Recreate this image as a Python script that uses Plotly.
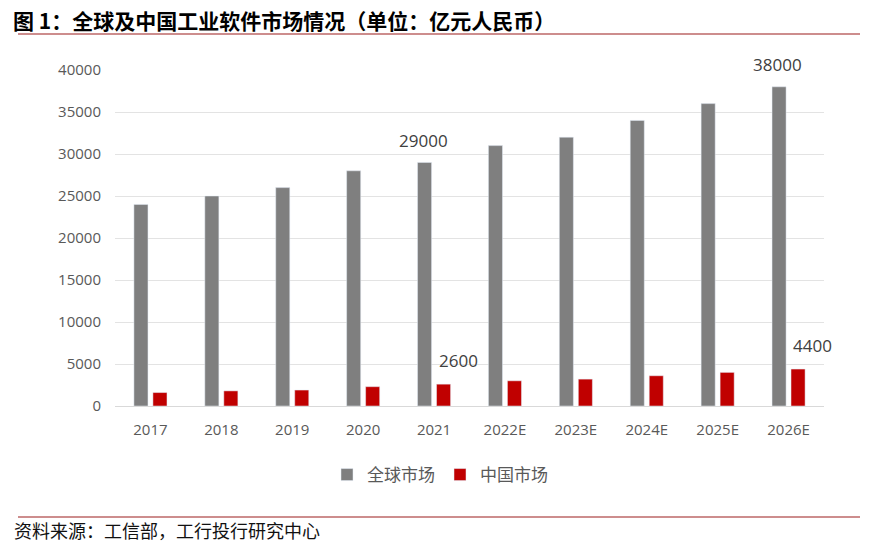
import plotly.graph_objects as go

years = ["2017", "2018", "2019", "2020", "2021", "2022E", "2023E", "2024E", "2025E", "2026E"]
global_market = [24000, 25000, 26000, 28000, 29000, 31000, 32000, 34000, 36000, 38000]
china_market = [1600, 1800, 1900, 2300, 2600, 3000, 3200, 3600, 4000, 4400]
labeled_idx = [4, 9]
y_ticks = [0, 5000, 10000, 15000, 20000, 25000, 30000, 35000, 40000]

GRAY = "#7f7f7f"
RED = "#c00000"
CJK = "Noto Sans CJK SC"
NUM = "Open Sans, Noto Sans CJK SC"

L, R, T, B = 115, 48, 70, 139
W, H = 872, 545
pw, ph = W - L - R, H - T - B

def px_to_paper_y(py):
    return (H - B - py) / ph

def px_to_paper_x(px):
    return (px - L) / pw

fig = go.Figure()
fig.add_trace(go.Bar(x=years, y=global_market, name="全球市场", marker_color=GRAY))
fig.add_trace(go.Bar(x=years, y=china_market, name="中国市场", marker_color=RED))

annotations = []
for i in labeled_idx:
    annotations.append(dict(x=i, y=global_market[i], xref="x", yref="y",
                            text=str(global_market[i]), showarrow=False,
                            xshift=-11, yshift=22, yanchor="middle",
                            font=dict(family=NUM, size=17, color="#404040")))
    annotations.append(dict(x=i, y=china_market[i], xref="x", yref="y",
                            text=str(china_market[i]), showarrow=False,
                            xshift=24, yshift=24, yanchor="middle",
                            font=dict(family=NUM, size=17, color="#404040")))

annotations.append(dict(x=px_to_paper_x(11), y=px_to_paper_y(20), xref="paper", yref="paper",
                        text="<b>图 1：全球及中国工业软件市场情况（单位：亿元人民币）</b>",
                        showarrow=False, xanchor="left", yanchor="middle",
                        font=dict(family=CJK, size=21, color="#000000")))
annotations.append(dict(x=px_to_paper_x(12), y=px_to_paper_y(530), xref="paper", yref="paper",
                        text="资料来源：工信部，工行投行研究中心",
                        showarrow=False, xanchor="left", yanchor="middle",
                        font=dict(family=CJK, size=18, color="#111111")))

shapes = [
    dict(type="line", xref="paper", yref="paper", x0=px_to_paper_x(18), x1=px_to_paper_x(860),
         y0=px_to_paper_y(34), y1=px_to_paper_y(34), line=dict(color="#9b1c1c", width=1.2)),
    dict(type="line", xref="paper", yref="paper", x0=px_to_paper_x(18), x1=px_to_paper_x(860),
         y0=px_to_paper_y(517), y1=px_to_paper_y(517), line=dict(color="#9b1c1c", width=1.2)),
]

fig.update_layout(
    width=W, height=H,
    margin=dict(l=L, r=R, t=T, b=B, autoexpand=False),
    paper_bgcolor="white", plot_bgcolor="white",
    barmode="group", bargap=0.464, bargroupgap=0.26,
    showlegend=True,
    legend=dict(orientation="h", x=px_to_paper_x(440), xanchor="center",
                y=px_to_paper_y(475), yanchor="middle",
                font=dict(family=CJK, size=17, color="#595959"),
                itemwidth=30, traceorder="normal"),
    annotations=annotations,
    shapes=shapes,
    xaxis=dict(type="category", range=[-0.5, len(years) - 0.5],
               showgrid=False, showline=True, linecolor="#d9d9d9", linewidth=1,
               ticks="outside", ticklen=10, tickcolor="rgba(0,0,0,0)",
               tickfont=dict(family=NUM, size=15, color="#595959")),
    yaxis=dict(range=[0, 40000], tickvals=y_ticks, ticktext=[str(v) for v in y_ticks],
               showgrid=True, gridcolor="#e3e3e3",
               gridwidth=1, zeroline=False, showline=False,
               ticks="outside", ticklen=10, tickcolor="rgba(0,0,0,0)",
               tickfont=dict(family=NUM, size=15, color="#595959")),
)

fig.write_html("out.html", config={"displayModeBar": False},
               post_script="document.body.style.margin='0';document.body.style.overflow='hidden';")
